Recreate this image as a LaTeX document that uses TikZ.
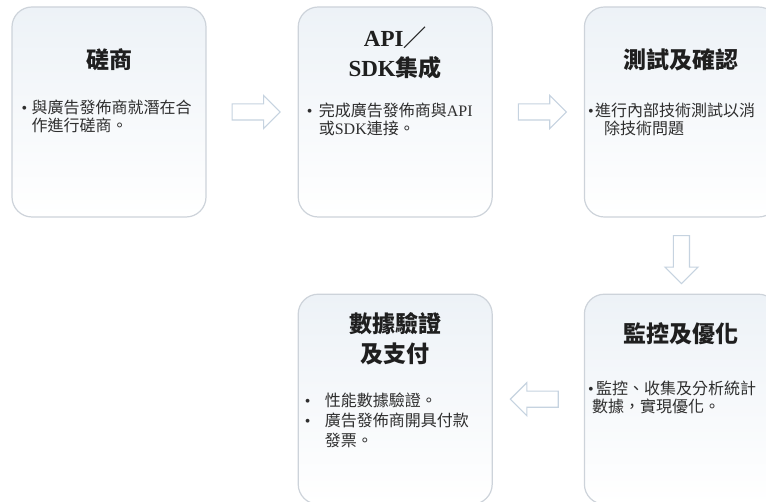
\documentclass[tikz,border=0pt]{standalone}
\usepackage{fontspec}
\setmainfont{Liberation Serif}
\newfontfamily\cjk{Noto Sans CJK TC}
\usepackage{tikz}
\usetikzlibrary{positioning,shapes.arrows}
\definecolor{boxline}{HTML}{CDD3DA}
\definecolor{boxtop}{HTML}{EDF2F7}
\definecolor{arrline}{HTML}{C6D3E0}
\definecolor{bodytxt}{HTML}{2E2E2E}
\newcommand{\bul}[1][12pt]{\makebox[#1][l]{\rmfamily\textbullet}}
\tikzset{
  stagebox/.style={
    rectangle,
    rounded corners=20pt,
    draw=boxline,
    line width=1.2pt,
    top color=boxtop,
    bottom color=white,
    minimum width=194pt,
    minimum height=210pt,
    inner sep=0pt
  },
  stagetitle/.style={
    font=\cjk\bfseries\fontsize{23}{30}\selectfont,
    text=black!88,
    align=center,
    inner sep=0pt
  },
  stagetext/.style={
    font=\cjk\fontsize{16}{18}\selectfont,
    text=bodytxt,
    align=left,
    inner sep=0pt
  },
  hollowarrow/.style={
    single arrow,
    draw=arrline,
    fill=white,
    line width=1.1pt,
    minimum height=48pt,
    inner sep=7.5pt,
    single arrow head extend=8.5pt
  }
}

\begin{document}
\begin{tikzpicture}[x=1pt, y=1pt, node distance=76pt and 91pt]
  \path[use as bounding box, clip] (0,0) rectangle (766,501);
  % the five stages
  \node[stagebox] (talk) at (109,389) {};
  \node[stagebox, right=of talk] (api) {};
  \node[stagebox, right=of api] (test) {};
  \node[stagebox, below=of test] (tune) {};
  \node[stagebox, left=of tune] (pay) {};
  % titles
  \node[stagetitle, below=42pt of talk.north] (talkt) {磋商};
  \node[stagetitle, below=20pt of api.north] (apit) {{\rmfamily API}／\\{\rmfamily SDK}集成};
  \node[stagetitle, below=42pt of test.north] (testt) {測試及確認};
  \node[stagetitle, below=29pt of tune.north] (tunet) {監控及優化};
  \node[stagetitle, below=19pt of pay.north] (payt) {數據驗證\\及支付};
  % bullet texts
  \node[stagetext, below right=93pt and 10pt of talk.north west] (talkb)
    {\bul[10pt]與廣告發佈商就潛在合\\\hspace*{10pt}作進行磋商。};
  \node[stagetext, below right=96pt and 9pt of api.north west] (apib)
    {\bul{}完成廣告發佈商與{\rmfamily API}\\\hspace*{12pt}或{\rmfamily SDK}連接。};
  \node[stagetext, below right=96pt and 4pt of test.north west] (testb)
    {\bul[7pt]進行內部技術測試以消\\\hspace*{16pt}除技術問題};
  \node[stagetext, below right=87pt and 4pt of tune.north west] (tuneb)
    {\bul[8pt]監控、收集及分析統計\\\hspace*{4pt}數據，實現優化。};
  \node[stagetext, font=\cjk\fontsize{16}{20}\selectfont,
    below right=99pt and 7pt of pay.north west] (payb)
    {\bul[20pt]性能數據驗證。\\\bul[20pt]廣告發佈商開具付款\\\hspace*{20pt}發票。};
  % arrows between stages
  \path (talk.east) -- (api.west) node[hollowarrow, midway] (a1) {};
  \path (api.east) -- (test.west) node[hollowarrow, midway] (a2) {};
  \path (test.south) -- (tune.north) node[hollowarrow, midway, shape border rotate=270] (a3) {};
  \path (tune.west) -- (pay.east) node[hollowarrow, midway, shape border rotate=180] (a4) {};
\end{tikzpicture}
\end{document}
